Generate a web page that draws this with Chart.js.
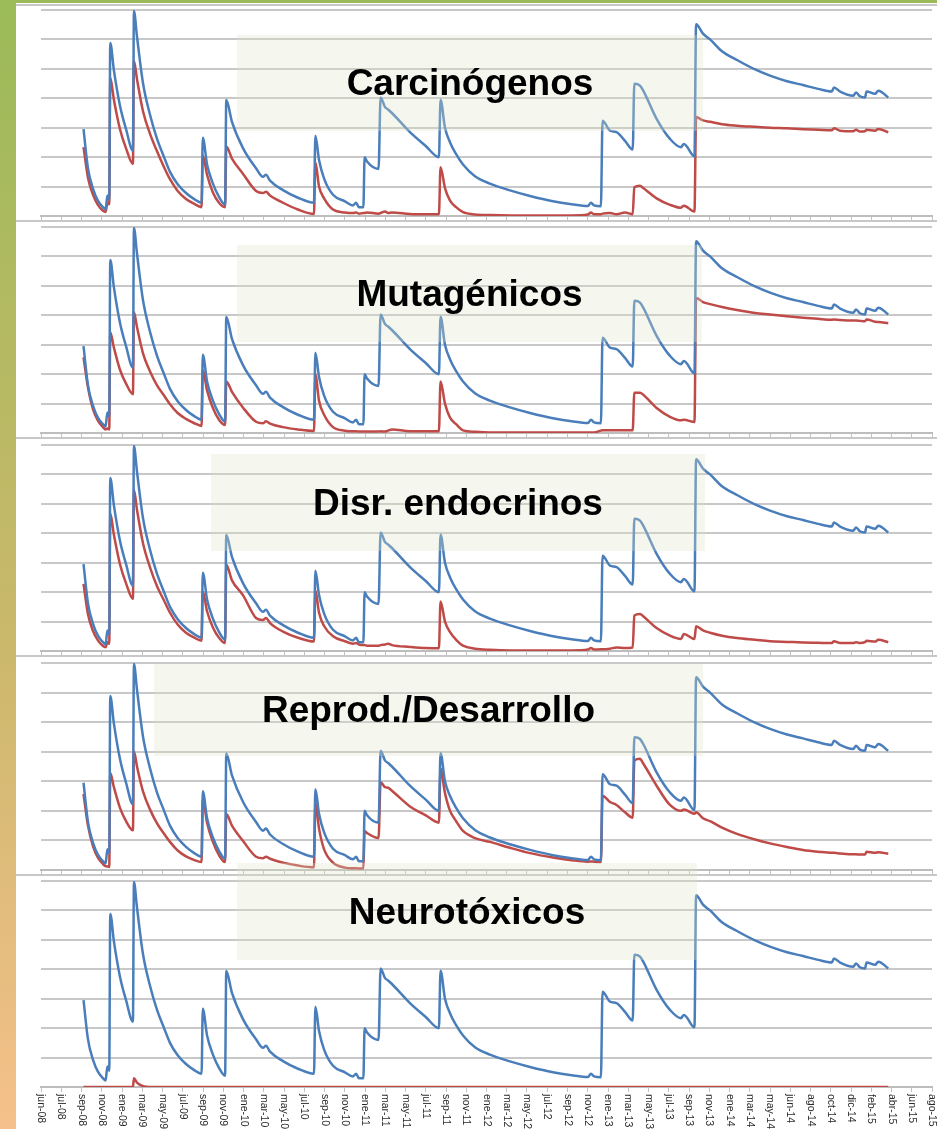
<!DOCTYPE html>
<html>
<head>
<meta charset="utf-8">
<script src="https://cdn.jsdelivr.net/npm/chart.js@4.4.1/dist/chart.umd.min.js"></script>
<style>
    body { margin: 0; background: #fff; }
    #marco { position: relative; width: 937px; height: 1129px; overflow: hidden; background: #fff; }
    #borde-izq { position: absolute; left: 0; top: 0; width: 16px; height: 1129px; background: linear-gradient(#9bbb59, #c9b86a 55%, #f5c08b); }
    #borde-sup { position: absolute; left: 0; top: 0; width: 937px; height: 3px; background: #9bbb59; }
    canvas { position: absolute; left: 16px; }
    .sep { position: absolute; left: 16px; width: 921px; height: 2px; background: #c8c8c8; }
    .titulo {
        position: absolute; display: flex; align-items: center; justify-content: center;
        background: rgba(222, 225, 198, 0.3);
        font: bold 37px "Liberation Sans", Arial, sans-serif; color: #000; white-space: nowrap;
    }
</style>
</head>
<body>
<div id="marco">
    <div id="borde-izq"></div>
    <div id="borde-sup"></div>

    <canvas id="carcChart" width="921" height="217" style="top:4px"></canvas>
    <canvas id="mutaChart" width="921" height="217" style="top:221px"></canvas>
    <canvas id="disrChart" width="921" height="217" style="top:439px"></canvas>
    <canvas id="reprChart" width="921" height="218" style="top:657px"></canvas>
    <canvas id="neurChart" width="921" height="254" style="top:875px"></canvas>

    <div class="sep" style="top:4px"></div>
    <div class="sep" style="top:220px"></div>
    <div class="sep" style="top:437px"></div>
    <div class="sep" style="top:655px"></div>
    <div class="sep" style="top:874px"></div>

    <div class="titulo" style="left:237px; top:35px; width:466px; height:96px">Carcinógenos</div>
    <div class="titulo" style="left:237px; top:245px; width:465px; height:97px">Mutagénicos</div>
    <div class="titulo" style="left:211px; top:454px; width:494px; height:97px">Disr. endocrinos</div>
    <div class="titulo" style="left:154px; top:664px; width:549px; height:92px">Reprod./Desarrollo</div>
    <div class="titulo" style="left:237px; top:863px; width:460px; height:97px">Neurotóxicos</div>
</div>

<script>
// etiquetas del eje (una por division)
const etiquetasEje = ['jun-08','jul-08','sep-08','nov-08','ene-09','mar-09','may-09','jul-09','sep-09','nov-09',
    'ene-10','mar-10','may-10','jul-10','sep-10','nov-10','ene-11','mar-11','may-11','jul-11','sep-11','nov-11',
    'ene-12','mar-12','may-12','jul-12','sep-12','nov-12','ene-13','mar-13','may-13','jul-13','sep-13','nov-13',
    'ene-14','mar-14','may-14','jun-14','ago-14','oct-14','dic-14','feb-15','abr-15','jun-15','ago-15'];

// posicion de cada punto, en divisiones del eje
const posiciones = [2.10, 2.32, 2.57, 2.81, 3.06, 3.19, 3.28, 3.37, 3.42, 3.60,
    3.90, 4.20, 4.54, 4.59, 4.74, 5.04, 5.38, 5.73, 6.05, 6.37,
    6.75, 7.16, 7.55, 7.93, 7.99, 8.20, 8.49, 8.79, 9.09, 9.15,
    9.43, 9.98, 10.62, 10.96, 11.11, 11.31, 11.95, 12.69, 13.48, 13.55,
    13.73, 13.98, 14.42, 15.01, 15.41, 15.56, 15.70, 15.92, 15.98, 16.10,
    16.67, 16.77, 16.99, 17.14, 17.33, 18.22, 19.00, 19.65, 19.73, 19.95,
    20.20, 20.50, 20.84, 21.43, 22.17, 23.16, 24.15, 25.28, 26.20, 27.01,
    27.16, 27.31, 27.65, 27.73, 28.10, 28.42, 28.84, 29.22, 29.30, 29.58,
    29.74, 30.40, 31.06, 31.60, 31.75, 32.27, 32.35, 32.69, 33.04, 33.63,
    34.37, 35.26, 36.00, 36.84, 37.63, 38.37, 39.05, 39.16, 39.46, 40.11,
    40.25, 40.44, 40.69, 40.77, 41.19, 41.35, 41.84];

// serie azul (igual en los cinco paneles)
const total = [2.95, 1.62, 0.92, 0.52, 0.30, 0.22, 0.70, 0.55, 5.88, 4.95,
    3.75, 2.95, 2.22, 6.97, 6.10, 4.50, 3.45, 2.62, 2.05, 1.50,
    1.08, 0.78, 0.58, 0.45, 2.66, 1.75, 1.10, 0.65, 0.38, 3.94,
    3.20, 2.30, 1.62, 1.33, 1.40, 1.20, 0.88, 0.62, 0.45, 2.73,
    1.90, 1.27, 0.72, 0.50, 0.36, 0.45, 0.30, 0.30, 2.00, 1.85,
    1.60, 4.03, 3.70, 3.62, 3.50, 2.85, 2.38, 2.00, 3.95, 3.00,
    2.50, 2.10, 1.75, 1.35, 1.10, 0.87, 0.68, 0.50, 0.40, 0.34,
    0.45, 0.36, 0.33, 3.24, 2.90, 2.85, 2.55, 2.26, 4.49, 4.43,
    4.26, 3.30, 2.62, 2.34, 2.45, 2.03, 6.52, 6.20, 6.00, 5.60,
    5.30, 4.98, 4.77, 4.58, 4.45, 4.32, 4.23, 4.37, 4.23, 4.09,
    4.20, 4.07, 4.03, 4.23, 4.15, 4.26, 4.03];

const carcinogenos = [2.34, 1.30, 0.72, 0.38, 0.18, 0.14, 0.45, 0.40, 4.70, 3.95,
    2.95, 2.30, 1.77, 5.27, 4.65, 3.55, 2.80, 2.20, 1.70, 1.25,
    0.85, 0.58, 0.42, 0.30, 2.06, 1.40, 0.80, 0.45, 0.30, 2.36,
    1.95, 1.43, 0.85, 0.78, 0.82, 0.70, 0.45, 0.22, 0.07, 1.83,
    1.00, 0.60, 0.22, 0.12, 0.10, 0.12, 0.08, 0.10, 0.10, 0.12,
    0.08, 0.10, 0.15, 0.10, 0.12, 0.07, 0.06, 0.06, 1.66, 0.95,
    0.52, 0.30, 0.13, 0.05, 0.03, 0.02, 0.02, 0.02, 0.02, 0.05,
    0.12, 0.06, 0.06, 0.08, 0.10, 0.06, 0.12, 0.06, 0.98, 1.03,
    0.95, 0.60, 0.38, 0.28, 0.35, 0.15, 3.36, 3.25, 3.20, 3.12,
    3.07, 3.03, 3.00, 2.98, 2.95, 2.93, 2.91, 2.98, 2.90, 2.88,
    2.93, 2.87, 2.88, 2.93, 2.90, 2.96, 2.84];

const mutagenicos = [2.57, 1.55, 0.80, 0.42, 0.20, 0.12, 0.15, 0.12, 3.42, 2.90,
    2.15, 1.68, 1.32, 4.10, 3.60, 2.70, 2.10, 1.62, 1.30, 0.98,
    0.68, 0.48, 0.34, 0.24, 2.14, 1.45, 0.85, 0.45, 0.27, 1.75,
    1.40, 0.86, 0.38, 0.33, 0.40, 0.32, 0.20, 0.12, 0.07, 1.98,
    1.10, 0.62, 0.20, 0.08, 0.06, 0.06, 0.05, 0.05, 0.05, 0.05,
    0.05, 0.06, 0.05, 0.08, 0.12, 0.06, 0.06, 0.06, 1.75, 1.00,
    0.52, 0.30, 0.09, 0.04, 0.02, 0.02, 0.02, 0.02, 0.02, 0.02,
    0.02, 0.02, 0.08, 0.09, 0.09, 0.09, 0.09, 0.09, 1.37, 1.37,
    1.30, 0.85, 0.55, 0.43, 0.45, 0.37, 4.59, 4.45, 4.38, 4.28,
    4.18, 4.08, 4.03, 3.97, 3.92, 3.88, 3.85, 3.86, 3.84, 3.82,
    3.82, 3.81, 3.80, 3.86, 3.78, 3.77, 3.73];

const disruptores = [2.28, 1.25, 0.68, 0.36, 0.17, 0.13, 0.30, 0.25, 4.67, 3.95,
    2.95, 2.30, 1.77, 5.47, 4.80, 3.65, 2.85, 2.20, 1.75, 1.30,
    0.90, 0.62, 0.46, 0.35, 2.02, 1.35, 0.80, 0.45, 0.27, 2.93,
    2.40, 1.89, 1.12, 1.05, 1.12, 0.95, 0.66, 0.45, 0.32, 2.06,
    1.30, 0.85, 0.50, 0.33, 0.25, 0.27, 0.22, 0.20, 0.20, 0.18,
    0.18, 0.20, 0.22, 0.25, 0.20, 0.14, 0.10, 0.09, 1.68, 1.00,
    0.64, 0.38, 0.18, 0.08, 0.04, 0.02, 0.02, 0.02, 0.02, 0.05,
    0.10, 0.05, 0.06, 0.06, 0.08, 0.12, 0.10, 0.12, 1.20, 1.26,
    1.18, 0.78, 0.52, 0.41, 0.58, 0.41, 0.84, 0.70, 0.62, 0.52,
    0.44, 0.38, 0.33, 0.31, 0.29, 0.28, 0.27, 0.33, 0.27, 0.27,
    0.30, 0.27, 0.30, 0.35, 0.32, 0.38, 0.30];

const reproductivos = [2.57, 1.50, 0.80, 0.42, 0.20, 0.13, 0.12, 0.10, 3.28, 2.80,
    2.10, 1.65, 1.34, 4.01, 3.50, 2.65, 2.05, 1.58, 1.25, 0.95,
    0.66, 0.46, 0.34, 0.27, 2.40, 1.60, 0.95, 0.50, 0.27, 1.89,
    1.50, 0.98, 0.45, 0.40, 0.45, 0.38, 0.25, 0.15, 0.09, 2.25,
    1.40, 0.70, 0.25, 0.08, 0.06, 0.06, 0.05, 0.06, 1.32, 1.25,
    1.08, 2.97, 2.80, 2.78, 2.68, 2.15, 1.85, 1.60, 3.42, 2.60,
    2.00, 1.65, 1.32, 1.08, 0.95, 0.75, 0.57, 0.42, 0.33, 0.28,
    0.29, 0.28, 0.27, 2.51, 2.30, 2.20, 1.95, 1.77, 3.70, 3.76,
    3.60, 2.85, 2.20, 2.00, 2.05, 1.90, 1.95, 1.75, 1.65, 1.43,
    1.22, 1.03, 0.90, 0.78, 0.68, 0.62, 0.58, 0.58, 0.56, 0.53,
    0.53, 0.52, 0.52, 0.62, 0.58, 0.60, 0.55];

const neurotoxicos = [0, 0, 0, 0, 0, 0, 0, 0, 0, 0,
    0, 0, 0, 0.30, 0.15, 0.03, 0, 0, 0, 0,
    0, 0, 0, 0, 0, 0, 0, 0, 0, 0,
    0, 0, 0, 0, 0, 0, 0, 0, 0, 0,
    0, 0, 0, 0, 0, 0, 0, 0, 0, 0,
    0, 0, 0, 0, 0, 0, 0, 0, 0, 0,
    0, 0, 0, 0, 0, 0, 0, 0, 0, 0,
    0, 0, 0, 0, 0, 0, 0, 0, 0, 0,
    0, 0, 0, 0, 0, 0, 0, 0, 0, 0,
    0, 0, 0, 0, 0, 0, 0, 0, 0, 0,
    0, 0, 0, 0, 0, 0, 0];

const etiquetasPlugin = {
    id: 'etiquetasFechas',
    afterDraw(chart) {
        const ctx = chart.ctx;
        const x = chart.scales.x;
        ctx.save();
        ctx.font = '10.5px "Liberation Sans", Arial, sans-serif';
        ctx.fillStyle = '#2a2a2a';
        ctx.textAlign = 'left';
        ctx.textBaseline = 'middle';
        etiquetasEje.forEach(function(txt, i) {
            ctx.save();
            ctx.translate(x.getPixelForValue(i), chart.chartArea.bottom + 7);
            ctx.rotate(Math.PI / 2);
            ctx.fillText(txt, 0, 0);
            ctx.restore();
        });
        ctx.restore();
    }
};

function serie(valores) {
    return posiciones.map(function(p, i) { return { x: p, y: valores[i] }; });
}

function createPanel(canvasId, valoresRojos, conEtiquetas) {
    const ctx = document.getElementById(canvasId).getContext('2d');
    new Chart(ctx, {
        type: 'line',
        data: {
            datasets: [{
                data: serie(total),
                borderColor: '#4a7ebb',
                borderWidth: 2.5,
                pointRadius: 0,
                cubicInterpolationMode: 'monotone',
                borderJoinStyle: 'round'
            }, {
                data: serie(valoresRojos),
                borderColor: '#be4b48',
                borderWidth: 2.5,
                pointRadius: 0,
                cubicInterpolationMode: 'monotone',
                borderJoinStyle: 'round'
            }]
        },
        options: {
            responsive: false,
            animation: false,
            layout: { padding: { left: 25, right: 5, top: 6, bottom: conEtiquetas ? 37 : 0 } },
            plugins: {
                legend: { display: false },
                tooltip: { enabled: false }
            },
            scales: {
                x: {
                    type: 'linear',
                    min: 0,
                    max: 44,
                    ticks: { stepSize: 1, display: false },
                    grid: { drawOnChartArea: false, drawTicks: true, tickLength: 5, color: '#c2c2c2', lineWidth: 1 },
                    border: { color: '#bdbdbd', width: 2 }
                },
                y: {
                    min: 0,
                    max: 7,
                    ticks: { stepSize: 1, display: false },
                    grid: { color: '#c8c8c8', lineWidth: 2, drawTicks: false },
                    border: { display: false }
                }
            }
        },
        plugins: conEtiquetas ? [etiquetasPlugin] : []
    });
}

createPanel('carcChart', carcinogenos, false);
createPanel('mutaChart', mutagenicos, false);
createPanel('disrChart', disruptores, false);
createPanel('reprChart', reproductivos, false);
createPanel('neurChart', neurotoxicos, true);
</script>
</body>
</html>
